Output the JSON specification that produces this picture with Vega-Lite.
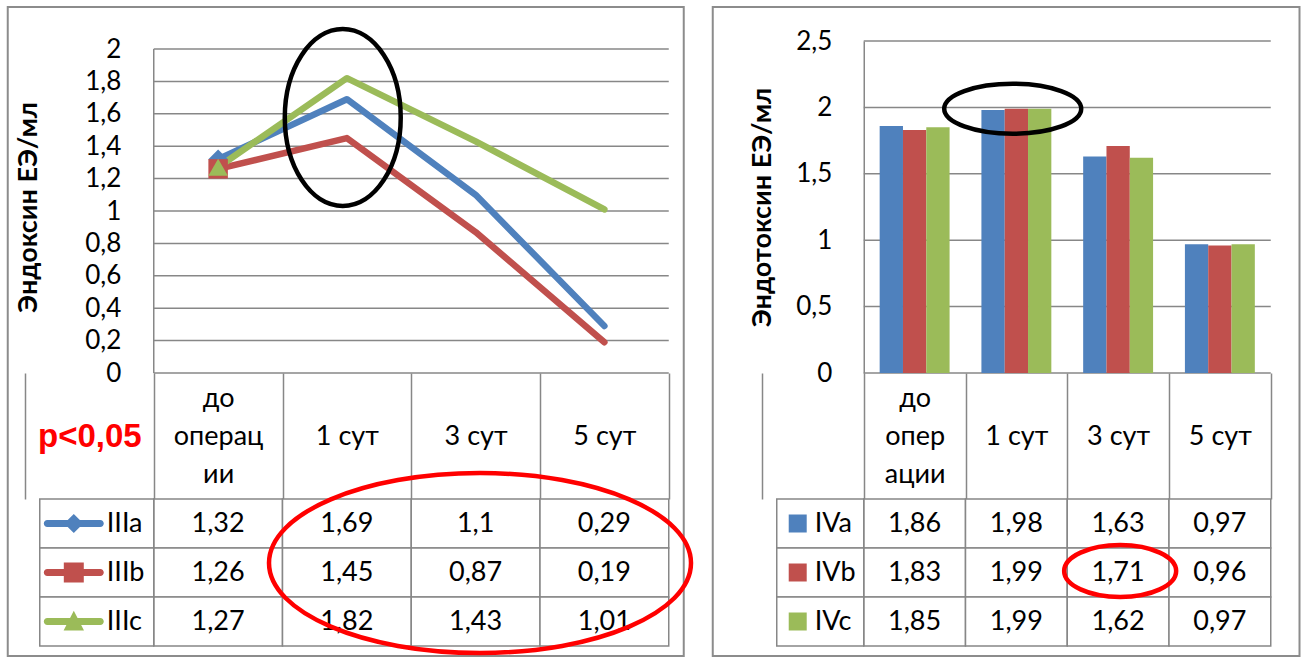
{
  "$schema": "https://vega.github.io/schema/vega-lite/v6.json",
  "background": "white",
  "padding": {"left": 6, "top": 5, "right": 0, "bottom": 0},
  "config": {
    "view": {"stroke": null},
    "font": "Lato",
    "locale": {"number": {"decimal": ",", "thousands": " ", "grouping": [3], "currency": ["", ""]}}
  },
  "datasets": {
    "left": [
      {"series": "IIIa", "cat": "до операции", "value": 1.32},
      {"series": "IIIa", "cat": "1 сут", "value": 1.69},
      {"series": "IIIa", "cat": "3 сут", "value": 1.1},
      {"series": "IIIa", "cat": "5 сут", "value": 0.29},
      {"series": "IIIb", "cat": "до операции", "value": 1.26},
      {"series": "IIIb", "cat": "1 сут", "value": 1.45},
      {"series": "IIIb", "cat": "3 сут", "value": 0.87},
      {"series": "IIIb", "cat": "5 сут", "value": 0.19},
      {"series": "IIIc", "cat": "до операции", "value": 1.27},
      {"series": "IIIc", "cat": "1 сут", "value": 1.82},
      {"series": "IIIc", "cat": "3 сут", "value": 1.43},
      {"series": "IIIc", "cat": "5 сут", "value": 1.01}
    ],
    "right": [
      {"series": "IVa", "cat": "до операции", "value": 1.86},
      {"series": "IVa", "cat": "1 сут", "value": 1.98},
      {"series": "IVa", "cat": "3 сут", "value": 1.63},
      {"series": "IVa", "cat": "5 сут", "value": 0.97},
      {"series": "IVb", "cat": "до операции", "value": 1.83},
      {"series": "IVb", "cat": "1 сут", "value": 1.99},
      {"series": "IVb", "cat": "3 сут", "value": 1.71},
      {"series": "IVb", "cat": "5 сут", "value": 0.96},
      {"series": "IVc", "cat": "до операции", "value": 1.85},
      {"series": "IVc", "cat": "1 сут", "value": 1.99},
      {"series": "IVc", "cat": "3 сут", "value": 1.62},
      {"series": "IVc", "cat": "5 сут", "value": 0.97}
    ]
  },
  "spacing": 10,
  "resolve": {"scale": {"color": "independent", "shape": "independent"}},
  "hconcat": [
    {
      "bounds": "flush",
      "spacing": 126,
      "resolve": {"scale": {"color": "independent", "shape": "independent"}},
      "vconcat": [
        {
          "width": 643.75,
          "height": 332,
          "data": {"name": "left"},
          "layer": [
            {
              "data": {"values": [{"frame": "panel"}]},
              "mark": {"type": "rect", "fill": "transparent", "stroke": "#8c8c8c", "strokeWidth": 2},
              "encoding": {
                "x": {"datum": "leg", "type": "nominal", "bandPosition": -0.134,
                  "scale": {"domain": ["leg", "до операции", "1 сут", "3 сут", "5 сут"], "paddingInner": 0, "paddingOuter": 0},
                  "axis": {"title": null, "values": ["leg", "до операции", "1 сут", "3 сут", "5 сут"], "domain": false, "grid": false, "ticks": true, "tickBand": "extent", "tickExtra": false, "tickSize": 126, "tickColor": "#878787", "tickWidth": 1.5, "labelExpr": "datum.value === 'leg' ? ['', 'p<0,05', ''] : (datum.value === 'до операции' ? ['до', 'операц', 'ии'] : ['', datum.value, ''])", "labelAlign": "center", "labelBaseline": "middle", "labelPadding": -101, "labelLineHeight": 38, "labelAngle": 0, "labelOverlap": false, "labelBound": false, "labelFlush": false, "labelLimit": 300, "labelFont": {"condition": {"test": "datum.value === 'leg'", "value": "Liberation Sans"}, "value": "Lato"}, "labelFontSize": {"condition": {"test": "datum.value === 'leg'", "value": 33}, "value": 27}, "labelFontWeight": {"condition": {"test": "datum.value === 'leg'", "value": "bold"}, "value": "normal"}, "labelColor": {"condition": {"test": "datum.value === 'leg'", "value": "#FF0000"}, "value": "#000000"}}},
                "x2": {"datum": "5 сут", "bandPosition": 1.1165},
                "y": {"datum": 2.2593, "type": "quantitative",
                  "scale": {"domain": [0, 2.0494], "nice": false},
                  "axis": {"title": "Эндоксин ЕЭ/мл", "titleFont": "Lato", "titleFontSize": 27, "titleFontWeight": "bold", "titleColor": "#000000", "titlePadding": 48, "minExtent": 63, "maxExtent": 63, "values": [0, 0.2, 0.4, 0.6, 0.8, 1, 1.2, 1.4, 1.6, 1.8, 2], "format": ".1~f", "offset": -128.75, "grid": false, "ticks": false, "domain": false, "labelFont": "Lato", "labelFontSize": 26, "labelColor": "#000000", "labelPadding": 33, "labelOverlap": false, "labelFlush": false}},
                "y2": {"datum": -1.7469}
              }
            },
            {
              "data": {"values": [{"g": 0}, {"g": 0.2}, {"g": 0.4}, {"g": 0.6}, {"g": 0.8}, {"g": 1}, {"g": 1.2}, {"g": 1.4}, {"g": 1.6}, {"g": 1.8}, {"g": 2}]},
              "mark": {"type": "rule", "stroke": "#878787", "strokeWidth": 1.5},
              "encoding": {
                "x": {"datum": "до операции", "type": "nominal", "bandPosition": 0,
                  "scale": {"domain": ["leg", "до операции", "1 сут", "3 сут", "5 сут"], "paddingInner": 0, "paddingOuter": 0},
                  "axis": {"title": null, "values": ["leg", "до операции", "1 сут", "3 сут", "5 сут"], "domain": false, "grid": false, "ticks": true, "tickBand": "extent", "tickExtra": false, "tickSize": 126, "tickColor": "#878787", "tickWidth": 1.5, "labelExpr": "datum.value === 'leg' ? ['', 'p<0,05', ''] : (datum.value === 'до операции' ? ['до', 'операц', 'ии'] : ['', datum.value, ''])", "labelAlign": "center", "labelBaseline": "middle", "labelPadding": -101, "labelLineHeight": 38, "labelAngle": 0, "labelOverlap": false, "labelBound": false, "labelFlush": false, "labelLimit": 300, "labelFont": {"condition": {"test": "datum.value === 'leg'", "value": "Liberation Sans"}, "value": "Lato"}, "labelFontSize": {"condition": {"test": "datum.value === 'leg'", "value": 33}, "value": 27}, "labelFontWeight": {"condition": {"test": "datum.value === 'leg'", "value": "bold"}, "value": "normal"}, "labelColor": {"condition": {"test": "datum.value === 'leg'", "value": "#FF0000"}, "value": "#000000"}}},
                "x2": {"datum": "5 сут", "bandPosition": 1},
                "y": {"field": "g", "type": "quantitative",
                  "scale": {"domain": [0, 2.0494], "nice": false},
                  "axis": {"title": "Эндоксин ЕЭ/мл", "titleFont": "Lato", "titleFontSize": 27, "titleFontWeight": "bold", "titleColor": "#000000", "titlePadding": 48, "minExtent": 63, "maxExtent": 63, "values": [0, 0.2, 0.4, 0.6, 0.8, 1, 1.2, 1.4, 1.6, 1.8, 2], "format": ".1~f", "offset": -128.75, "grid": false, "ticks": false, "domain": false, "labelFont": "Lato", "labelFontSize": 26, "labelColor": "#000000", "labelPadding": 33, "labelOverlap": false, "labelFlush": false}}
              }
            },
            {
              "data": {"values": [{"g": 0}]},
              "mark": {"type": "rule", "stroke": "#878787", "strokeWidth": 1.5},
              "encoding": {
                "x": {"datum": "до операции", "type": "nominal", "bandPosition": 0,
                  "scale": {"domain": ["leg", "до операции", "1 сут", "3 сут", "5 сут"], "paddingInner": 0, "paddingOuter": 0},
                  "axis": {"title": null, "values": ["leg", "до операции", "1 сут", "3 сут", "5 сут"], "domain": false, "grid": false, "ticks": true, "tickBand": "extent", "tickExtra": false, "tickSize": 126, "tickColor": "#878787", "tickWidth": 1.5, "labelExpr": "datum.value === 'leg' ? ['', 'p<0,05', ''] : (datum.value === 'до операции' ? ['до', 'операц', 'ии'] : ['', datum.value, ''])", "labelAlign": "center", "labelBaseline": "middle", "labelPadding": -101, "labelLineHeight": 38, "labelAngle": 0, "labelOverlap": false, "labelBound": false, "labelFlush": false, "labelLimit": 300, "labelFont": {"condition": {"test": "datum.value === 'leg'", "value": "Liberation Sans"}, "value": "Lato"}, "labelFontSize": {"condition": {"test": "datum.value === 'leg'", "value": 33}, "value": 27}, "labelFontWeight": {"condition": {"test": "datum.value === 'leg'", "value": "bold"}, "value": "normal"}, "labelColor": {"condition": {"test": "datum.value === 'leg'", "value": "#FF0000"}, "value": "#000000"}}},
                "y": {"datum": 0, "type": "quantitative",
                  "scale": {"domain": [0, 2.0494], "nice": false},
                  "axis": {"title": "Эндоксин ЕЭ/мл", "titleFont": "Lato", "titleFontSize": 27, "titleFontWeight": "bold", "titleColor": "#000000", "titlePadding": 48, "minExtent": 63, "maxExtent": 63, "values": [0, 0.2, 0.4, 0.6, 0.8, 1, 1.2, 1.4, 1.6, 1.8, 2], "format": ".1~f", "offset": -128.75, "grid": false, "ticks": false, "domain": false, "labelFont": "Lato", "labelFontSize": 26, "labelColor": "#000000", "labelPadding": 33, "labelOverlap": false, "labelFlush": false}},
                "y2": {"datum": 2}
              }
            },
            {
              "mark": {"type": "line", "strokeWidth": 6.5, "strokeCap": "round", "strokeJoin": "round"},
              "encoding": {
                "x": {"field": "cat", "type": "nominal",
                  "scale": {"domain": ["leg", "до операции", "1 сут", "3 сут", "5 сут"], "paddingInner": 0, "paddingOuter": 0},
                  "axis": {"title": null, "values": ["leg", "до операции", "1 сут", "3 сут", "5 сут"], "domain": false, "grid": false, "ticks": true, "tickBand": "extent", "tickExtra": false, "tickSize": 126, "tickColor": "#878787", "tickWidth": 1.5, "labelExpr": "datum.value === 'leg' ? ['', 'p<0,05', ''] : (datum.value === 'до операции' ? ['до', 'операц', 'ии'] : ['', datum.value, ''])", "labelAlign": "center", "labelBaseline": "middle", "labelPadding": -101, "labelLineHeight": 38, "labelAngle": 0, "labelOverlap": false, "labelBound": false, "labelFlush": false, "labelLimit": 300, "labelFont": {"condition": {"test": "datum.value === 'leg'", "value": "Liberation Sans"}, "value": "Lato"}, "labelFontSize": {"condition": {"test": "datum.value === 'leg'", "value": 33}, "value": 27}, "labelFontWeight": {"condition": {"test": "datum.value === 'leg'", "value": "bold"}, "value": "normal"}, "labelColor": {"condition": {"test": "datum.value === 'leg'", "value": "#FF0000"}, "value": "#000000"}}},
                "y": {"field": "value", "type": "quantitative",
                  "scale": {"domain": [0, 2.0494], "nice": false},
                  "axis": {"title": "Эндоксин ЕЭ/мл", "titleFont": "Lato", "titleFontSize": 27, "titleFontWeight": "bold", "titleColor": "#000000", "titlePadding": 48, "minExtent": 63, "maxExtent": 63, "values": [0, 0.2, 0.4, 0.6, 0.8, 1, 1.2, 1.4, 1.6, 1.8, 2], "format": ".1~f", "offset": -128.75, "grid": false, "ticks": false, "domain": false, "labelFont": "Lato", "labelFontSize": 26, "labelColor": "#000000", "labelPadding": 33, "labelOverlap": false, "labelFlush": false}},
                "color": {"field": "series", "type": "nominal", "scale": {"domain": ["IIIa", "IIIb", "IIIc"], "range": ["#4F81BD", "#C0504D", "#9BBB59"]}, "legend": null}
              }
            },
            {
              "transform": [{"filter": "datum.cat === 'до операции'"}],
              "mark": {"type": "point", "filled": true, "opacity": 1, "size": 380},
              "encoding": {
                "x": {"field": "cat", "type": "nominal",
                  "scale": {"domain": ["leg", "до операции", "1 сут", "3 сут", "5 сут"], "paddingInner": 0, "paddingOuter": 0},
                  "axis": {"title": null, "values": ["leg", "до операции", "1 сут", "3 сут", "5 сут"], "domain": false, "grid": false, "ticks": true, "tickBand": "extent", "tickExtra": false, "tickSize": 126, "tickColor": "#878787", "tickWidth": 1.5, "labelExpr": "datum.value === 'leg' ? ['', 'p<0,05', ''] : (datum.value === 'до операции' ? ['до', 'операц', 'ии'] : ['', datum.value, ''])", "labelAlign": "center", "labelBaseline": "middle", "labelPadding": -101, "labelLineHeight": 38, "labelAngle": 0, "labelOverlap": false, "labelBound": false, "labelFlush": false, "labelLimit": 300, "labelFont": {"condition": {"test": "datum.value === 'leg'", "value": "Liberation Sans"}, "value": "Lato"}, "labelFontSize": {"condition": {"test": "datum.value === 'leg'", "value": 33}, "value": 27}, "labelFontWeight": {"condition": {"test": "datum.value === 'leg'", "value": "bold"}, "value": "normal"}, "labelColor": {"condition": {"test": "datum.value === 'leg'", "value": "#FF0000"}, "value": "#000000"}}},
                "y": {"field": "value", "type": "quantitative",
                  "scale": {"domain": [0, 2.0494], "nice": false},
                  "axis": {"title": "Эндоксин ЕЭ/мл", "titleFont": "Lato", "titleFontSize": 27, "titleFontWeight": "bold", "titleColor": "#000000", "titlePadding": 48, "minExtent": 63, "maxExtent": 63, "values": [0, 0.2, 0.4, 0.6, 0.8, 1, 1.2, 1.4, 1.6, 1.8, 2], "format": ".1~f", "offset": -128.75, "grid": false, "ticks": false, "domain": false, "labelFont": "Lato", "labelFontSize": 26, "labelColor": "#000000", "labelPadding": 33, "labelOverlap": false, "labelFlush": false}},
                "color": {"field": "series", "type": "nominal", "scale": {"domain": ["IIIa", "IIIb", "IIIc"], "range": ["#4F81BD", "#C0504D", "#9BBB59"]}, "legend": null},
                "shape": {"field": "series", "type": "nominal", "scale": {"domain": ["IIIa", "IIIb", "IIIc"], "range": ["diamond", "square", "triangle-up"]}, "legend": null}
              }
            },
            {
              "transform": [{"filter": "datum.series === 'IIIa' && datum.cat === '1 сут'"}],
              "mark": {"type": "point", "filled": false, "opacity": 1, "stroke": "#000000", "strokeWidth": 4.5, "size": 31329,
                "shape": "M 0.655 0 C 0.655 0.5523 0.3618 1 0 1 C -0.3618 1 -0.655 0.5523 -0.655 0 C -0.655 -0.5523 -0.3618 -1 0 -1 C 0.3618 -1 0.655 -0.5523 0.655 0 Z"},
              "encoding": {
                "x": {"field": "cat", "type": "nominal", "bandPosition": 0.468,
                  "scale": {"domain": ["leg", "до операции", "1 сут", "3 сут", "5 сут"], "paddingInner": 0, "paddingOuter": 0},
                  "axis": {"title": null, "values": ["leg", "до операции", "1 сут", "3 сут", "5 сут"], "domain": false, "grid": false, "ticks": true, "tickBand": "extent", "tickExtra": false, "tickSize": 126, "tickColor": "#878787", "tickWidth": 1.5, "labelExpr": "datum.value === 'leg' ? ['', 'p<0,05', ''] : (datum.value === 'до операции' ? ['до', 'операц', 'ии'] : ['', datum.value, ''])", "labelAlign": "center", "labelBaseline": "middle", "labelPadding": -101, "labelLineHeight": 38, "labelAngle": 0, "labelOverlap": false, "labelBound": false, "labelFlush": false, "labelLimit": 300, "labelFont": {"condition": {"test": "datum.value === 'leg'", "value": "Liberation Sans"}, "value": "Lato"}, "labelFontSize": {"condition": {"test": "datum.value === 'leg'", "value": 33}, "value": 27}, "labelFontWeight": {"condition": {"test": "datum.value === 'leg'", "value": "bold"}, "value": "normal"}, "labelColor": {"condition": {"test": "datum.value === 'leg'", "value": "#FF0000"}, "value": "#000000"}}},
                "y": {"datum": 1.577, "type": "quantitative",
                  "scale": {"domain": [0, 2.0494], "nice": false},
                  "axis": {"title": "Эндоксин ЕЭ/мл", "titleFont": "Lato", "titleFontSize": 27, "titleFontWeight": "bold", "titleColor": "#000000", "titlePadding": 48, "minExtent": 63, "maxExtent": 63, "values": [0, 0.2, 0.4, 0.6, 0.8, 1, 1.2, 1.4, 1.6, 1.8, 2], "format": ".1~f", "offset": -128.75, "grid": false, "ticks": false, "domain": false, "labelFont": "Lato", "labelFontSize": 26, "labelColor": "#000000", "labelPadding": 33, "labelOverlap": false, "labelFlush": false}}
              }
            }
          ]
        },
        {
          "width": 643.75,
          "height": 147,
          "data": {"name": "left"},
          "layer": [
            {
              "mark": {"type": "rect", "fill": "white", "stroke": "#878787", "strokeWidth": 1.5},
              "encoding": {
                "x": {"field": "cat", "type": "nominal", "scale": {"domain": ["leg", "до операции", "1 сут", "3 сут", "5 сут"], "paddingInner": 0, "paddingOuter": 0}, "axis": null},
                "y": {"field": "series", "type": "nominal", "scale": {"domain": ["IIIa", "IIIb", "IIIc"], "paddingInner": 0, "paddingOuter": 0}, "axis": null}
              }
            },
            {
              "transform": [{"filter": "datum.cat === 'до операции'"}],
              "mark": {"type": "rect", "fill": "white", "stroke": "#878787", "strokeWidth": 1.5},
              "encoding": {
                "x": {"datum": "leg", "type": "nominal", "bandPosition": 0.1146, "scale": {"domain": ["leg", "до операции", "1 сут", "3 сут", "5 сут"], "paddingInner": 0, "paddingOuter": 0}, "axis": null},
                "x2": {"datum": "leg", "bandPosition": 1},
                "y": {"field": "series", "type": "nominal", "scale": {"domain": ["IIIa", "IIIb", "IIIc"], "paddingInner": 0, "paddingOuter": 0}, "axis": null}
              }
            },
            {
              "mark": {"type": "text", "font": "Lato", "fontSize": 27, "color": "#000000", "baseline": "middle", "align": "center"},
              "encoding": {
                "x": {"field": "cat", "type": "nominal", "scale": {"domain": ["leg", "до операции", "1 сут", "3 сут", "5 сут"], "paddingInner": 0, "paddingOuter": 0}, "axis": null},
                "y": {"field": "series", "type": "nominal", "scale": {"domain": ["IIIa", "IIIb", "IIIc"], "paddingInner": 0, "paddingOuter": 0}, "axis": null},
                "text": {"field": "value", "type": "quantitative", "format": ".2~f"}
              }
            },
            {
              "transform": [{"filter": "datum.cat === 'до операции'"}],
              "mark": {"type": "point", "filled": true, "opacity": 1, "size": 3600, "strokeWidth": 0},
              "encoding": {
                "x": {"datum": "leg", "type": "nominal", "bandPosition": 0.379, "scale": {"domain": ["leg", "до операции", "1 сут", "3 сут", "5 сут"], "paddingInner": 0, "paddingOuter": 0}, "axis": null},
                "y": {"field": "series", "type": "nominal", "scale": {"domain": ["IIIa", "IIIb", "IIIc"], "paddingInner": 0, "paddingOuter": 0}, "axis": null},
                "color": {"field": "series", "type": "nominal", "scale": {"domain": ["IIIa", "IIIb", "IIIc"], "range": ["#4F81BD", "#C0504D", "#9BBB59"]}, "legend": null},
                "shape": {"field": "series", "type": "nominal", "legend": null, "scale": {"domain": ["IIIa", "IIIb", "IIIc"], "range": [
                  "M -0.883 -0.117 L 0.883 -0.117 C 0.948 -0.117 1 -0.065 1 0 C 1 0.065 0.948 0.117 0.883 0.117 L -0.883 0.117 C -0.948 0.117 -1 0.065 -1 0 C -1 -0.065 -0.948 -0.117 -0.883 -0.117 Z M 0 -0.32 L 0.32 0 L 0 0.32 L -0.32 0 Z",
                  "M -0.883 -0.117 L 0.883 -0.117 C 0.948 -0.117 1 -0.065 1 0 C 1 0.065 0.948 0.117 0.883 0.117 L -0.883 0.117 C -0.948 0.117 -1 0.065 -1 0 C -1 -0.065 -0.948 -0.117 -0.883 -0.117 Z M -0.333 -0.333 L 0.333 -0.333 L 0.333 0.333 L -0.333 0.333 Z",
                  "M -0.883 -0.117 L 0.883 -0.117 C 0.948 -0.117 1 -0.065 1 0 C 1 0.065 0.948 0.117 0.883 0.117 L -0.883 0.117 C -0.948 0.117 -1 0.065 -1 0 C -1 -0.065 -0.948 -0.117 -0.883 -0.117 Z M 0 -0.36 L 0.34 0.3 L -0.34 0.3 Z"
                ]}}
              }
            },
            {
              "transform": [{"filter": "datum.cat === 'до операции'"}],
              "mark": {"type": "text", "font": "Lato", "fontSize": 27, "color": "#000000", "baseline": "middle", "align": "left"},
              "encoding": {
                "x": {"datum": "leg", "type": "nominal", "bandPosition": 0.635, "scale": {"domain": ["leg", "до операции", "1 сут", "3 сут", "5 сут"], "paddingInner": 0, "paddingOuter": 0}, "axis": null},
                "y": {"field": "series", "type": "nominal", "scale": {"domain": ["IIIa", "IIIb", "IIIc"], "paddingInner": 0, "paddingOuter": 0}, "axis": null},
                "text": {"field": "series", "type": "nominal"}
              }
            },
            {
              "transform": [{"filter": "datum.series === 'IIIb' && datum.cat === '3 сут'"}],
              "mark": {"type": "point", "filled": false, "opacity": 1, "stroke": "#FF0000", "strokeWidth": 4.5, "size": 178084,
                "shape": "M 1 0 C 1 0.2356 0.5523 0.4265 0 0.4265 C -0.5523 0.4265 -1 0.2356 -1 0 C -1 -0.2356 -0.5523 -0.4265 0 -0.4265 C 0.5523 -0.4265 1 -0.2356 1 0 Z"},
              "encoding": {
                "x": {"field": "cat", "type": "nominal", "bandPosition": 0.534, "scale": {"domain": ["leg", "до операции", "1 сут", "3 сут", "5 сут"], "paddingInner": 0, "paddingOuter": 0}, "axis": null},
                "y": {"field": "series", "type": "nominal", "bandPosition": 0.306, "scale": {"domain": ["IIIa", "IIIb", "IIIc"], "paddingInner": 0, "paddingOuter": 0}, "axis": null}
              }
            }
          ]
        }
      ]
    },
    {
      "bounds": "flush",
      "spacing": 126,
      "resolve": {"scale": {"color": "independent", "shape": "independent"}},
      "vconcat": [
        {
          "width": 508.75,
          "height": 332,
          "data": {"name": "right"},
          "layer": [
            {
              "data": {"values": [{"frame": "panel"}]},
              "mark": {"type": "rect", "fill": "transparent", "stroke": "#8c8c8c", "strokeWidth": 2},
              "encoding": {
                "x": {"datum": "leg", "type": "nominal", "bandPosition": -0.484,
                  "scale": {"domain": ["leg", "до операции", "1 сут", "3 сут", "5 сут"], "paddingInner": 0, "paddingOuter": 0},
                  "axis": {"title": null, "values": ["leg", "до операции", "1 сут", "3 сут", "5 сут"], "domain": false, "grid": false, "ticks": true, "tickBand": "extent", "tickExtra": false, "tickSize": 126, "tickColor": "#878787", "tickWidth": 1.5, "labelExpr": "datum.value === 'leg' ? '' : (datum.value === 'до операции' ? ['до', 'опер', 'ации'] : ['', datum.value, ''])", "labelAlign": "center", "labelBaseline": "middle", "labelPadding": -101, "labelLineHeight": 38, "labelAngle": 0, "labelOverlap": false, "labelBound": false, "labelFlush": false, "labelLimit": 300, "labelFont": "Lato", "labelFontSize": 27, "labelColor": "#000000"}},
                "x2": {"datum": "5 сут", "bandPosition": 1.2826},
                "y": {"datum": 2.756, "type": "quantitative",
                  "scale": {"domain": [0, 2.5], "nice": false},
                  "axis": {"title": "Эндотоксин ЕЭ/мл", "titleFont": "Lato", "titleFontSize": 27, "titleFontWeight": "bold", "titleColor": "#000000", "titlePadding": 22, "minExtent": 65, "maxExtent": 65, "values": [0, 0.5, 1, 1.5, 2, 2.5], "format": ".1~f", "offset": -101.75, "grid": false, "ticks": false, "domain": true, "domainColor": "#878787", "domainWidth": 1.5, "labelFont": "Lato", "labelFontSize": 26, "labelColor": "#000000", "labelPadding": 32, "labelOverlap": false, "labelFlush": false}},
                "y2": {"datum": -2.131}
              }
            },
            {
              "data": {"values": [{"g": 0}, {"g": 0.5}, {"g": 1}, {"g": 1.5}, {"g": 2}, {"g": 2.5}]},
              "mark": {"type": "rule", "stroke": "#878787", "strokeWidth": 1.5},
              "encoding": {
                "x": {"datum": "до операции", "type": "nominal", "bandPosition": 0,
                  "scale": {"domain": ["leg", "до операции", "1 сут", "3 сут", "5 сут"], "paddingInner": 0, "paddingOuter": 0},
                  "axis": {"title": null, "values": ["leg", "до операции", "1 сут", "3 сут", "5 сут"], "domain": false, "grid": false, "ticks": true, "tickBand": "extent", "tickExtra": false, "tickSize": 126, "tickColor": "#878787", "tickWidth": 1.5, "labelExpr": "datum.value === 'leg' ? '' : (datum.value === 'до операции' ? ['до', 'опер', 'ации'] : ['', datum.value, ''])", "labelAlign": "center", "labelBaseline": "middle", "labelPadding": -101, "labelLineHeight": 38, "labelAngle": 0, "labelOverlap": false, "labelBound": false, "labelFlush": false, "labelLimit": 300, "labelFont": "Lato", "labelFontSize": 27, "labelColor": "#000000"}},
                "x2": {"datum": "5 сут", "bandPosition": 1},
                "y": {"field": "g", "type": "quantitative",
                  "scale": {"domain": [0, 2.5], "nice": false},
                  "axis": {"title": "Эндотоксин ЕЭ/мл", "titleFont": "Lato", "titleFontSize": 27, "titleFontWeight": "bold", "titleColor": "#000000", "titlePadding": 22, "minExtent": 65, "maxExtent": 65, "values": [0, 0.5, 1, 1.5, 2, 2.5], "format": ".1~f", "offset": -101.75, "grid": false, "ticks": false, "domain": true, "domainColor": "#878787", "domainWidth": 1.5, "labelFont": "Lato", "labelFontSize": 26, "labelColor": "#000000", "labelPadding": 32, "labelOverlap": false, "labelFlush": false}}
              }
            },
            {
              "mark": {"type": "bar"},
              "encoding": {
                "x": {"field": "cat", "type": "nominal",
                  "scale": {"domain": ["leg", "до операции", "1 сут", "3 сут", "5 сут"], "paddingInner": 0, "paddingOuter": 0},
                  "axis": {"title": null, "values": ["leg", "до операции", "1 сут", "3 сут", "5 сут"], "domain": false, "grid": false, "ticks": true, "tickBand": "extent", "tickExtra": false, "tickSize": 126, "tickColor": "#878787", "tickWidth": 1.5, "labelExpr": "datum.value === 'leg' ? '' : (datum.value === 'до операции' ? ['до', 'опер', 'ации'] : ['', datum.value, ''])", "labelAlign": "center", "labelBaseline": "middle", "labelPadding": -101, "labelLineHeight": 38, "labelAngle": 0, "labelOverlap": false, "labelBound": false, "labelFlush": false, "labelLimit": 300, "labelFont": "Lato", "labelFontSize": 27, "labelColor": "#000000"}},
                "xOffset": {"field": "series", "type": "nominal", "scale": {"domain": ["IVa", "IVb", "IVc"], "paddingInner": 0, "paddingOuter": 0.683}},
                "y": {"field": "value", "type": "quantitative",
                  "scale": {"domain": [0, 2.5], "nice": false},
                  "axis": {"title": "Эндотоксин ЕЭ/мл", "titleFont": "Lato", "titleFontSize": 27, "titleFontWeight": "bold", "titleColor": "#000000", "titlePadding": 22, "minExtent": 65, "maxExtent": 65, "values": [0, 0.5, 1, 1.5, 2, 2.5], "format": ".1~f", "offset": -101.75, "grid": false, "ticks": false, "domain": true, "domainColor": "#878787", "domainWidth": 1.5, "labelFont": "Lato", "labelFontSize": 26, "labelColor": "#000000", "labelPadding": 32, "labelOverlap": false, "labelFlush": false}},
                "color": {"field": "series", "type": "nominal", "scale": {"domain": ["IVa", "IVb", "IVc"], "range": ["#4F81BD", "#C0504D", "#9BBB59"]}, "legend": null}
              }
            },
            {
              "transform": [{"filter": "datum.series === 'IVa' && datum.cat === '1 сут'"}],
              "mark": {"type": "point", "filled": false, "opacity": 1, "stroke": "#000000", "strokeWidth": 4.5, "size": 18769,
                "shape": "M 1 0 C 1 0.2016 0.5523 0.365 0 0.365 C -0.5523 0.365 -1 0.2016 -1 0 C -1 -0.2016 -0.5523 -0.365 0 -0.365 C 0.5523 -0.365 1 -0.2016 1 0 Z"},
              "encoding": {
                "x": {"field": "cat", "type": "nominal", "bandPosition": 0.464,
                  "scale": {"domain": ["leg", "до операции", "1 сут", "3 сут", "5 сут"], "paddingInner": 0, "paddingOuter": 0},
                  "axis": {"title": null, "values": ["leg", "до операции", "1 сут", "3 сут", "5 сут"], "domain": false, "grid": false, "ticks": true, "tickBand": "extent", "tickExtra": false, "tickSize": 126, "tickColor": "#878787", "tickWidth": 1.5, "labelExpr": "datum.value === 'leg' ? '' : (datum.value === 'до операции' ? ['до', 'опер', 'ации'] : ['', datum.value, ''])", "labelAlign": "center", "labelBaseline": "middle", "labelPadding": -101, "labelLineHeight": 38, "labelAngle": 0, "labelOverlap": false, "labelBound": false, "labelFlush": false, "labelLimit": 300, "labelFont": "Lato", "labelFontSize": 27, "labelColor": "#000000"}},
                "y": {"datum": 1.99, "type": "quantitative",
                  "scale": {"domain": [0, 2.5], "nice": false},
                  "axis": {"title": "Эндотоксин ЕЭ/мл", "titleFont": "Lato", "titleFontSize": 27, "titleFontWeight": "bold", "titleColor": "#000000", "titlePadding": 22, "minExtent": 65, "maxExtent": 65, "values": [0, 0.5, 1, 1.5, 2, 2.5], "format": ".1~f", "offset": -101.75, "grid": false, "ticks": false, "domain": true, "domainColor": "#878787", "domainWidth": 1.5, "labelFont": "Lato", "labelFontSize": 26, "labelColor": "#000000", "labelPadding": 32, "labelOverlap": false, "labelFlush": false}}
              }
            }
          ]
        },
        {
          "width": 508.75,
          "height": 147,
          "data": {"name": "right"},
          "layer": [
            {
              "mark": {"type": "rect", "fill": "white", "stroke": "#878787", "strokeWidth": 1.5},
              "encoding": {
                "x": {"field": "cat", "type": "nominal", "scale": {"domain": ["leg", "до операции", "1 сут", "3 сут", "5 сут"], "paddingInner": 0, "paddingOuter": 0}, "axis": null},
                "y": {"field": "series", "type": "nominal", "scale": {"domain": ["IVa", "IVb", "IVc"], "paddingInner": 0, "paddingOuter": 0}, "axis": null}
              }
            },
            {
              "transform": [{"filter": "datum.cat === 'до операции'"}],
              "mark": {"type": "rect", "fill": "white", "stroke": "#878787", "strokeWidth": 1.5},
              "encoding": {
                "x": {"datum": "leg", "type": "nominal", "bandPosition": 0.145, "scale": {"domain": ["leg", "до операции", "1 сут", "3 сут", "5 сут"], "paddingInner": 0, "paddingOuter": 0}, "axis": null},
                "x2": {"datum": "leg", "bandPosition": 1},
                "y": {"field": "series", "type": "nominal", "scale": {"domain": ["IVa", "IVb", "IVc"], "paddingInner": 0, "paddingOuter": 0}, "axis": null}
              }
            },
            {
              "mark": {"type": "text", "font": "Lato", "fontSize": 27, "color": "#000000", "baseline": "middle", "align": "center"},
              "encoding": {
                "x": {"field": "cat", "type": "nominal", "scale": {"domain": ["leg", "до операции", "1 сут", "3 сут", "5 сут"], "paddingInner": 0, "paddingOuter": 0}, "axis": null},
                "y": {"field": "series", "type": "nominal", "scale": {"domain": ["IVa", "IVb", "IVc"], "paddingInner": 0, "paddingOuter": 0}, "axis": null},
                "text": {"field": "value", "type": "quantitative", "format": ".2~f"}
              }
            },
            {
              "transform": [{"filter": "datum.cat === 'до операции'"}],
              "mark": {"type": "point", "filled": true, "opacity": 1, "size": 324, "shape": "square", "strokeWidth": 0},
              "encoding": {
                "x": {"datum": "leg", "type": "nominal", "bandPosition": 0.351, "scale": {"domain": ["leg", "до операции", "1 сут", "3 сут", "5 сут"], "paddingInner": 0, "paddingOuter": 0}, "axis": null},
                "y": {"field": "series", "type": "nominal", "scale": {"domain": ["IVa", "IVb", "IVc"], "paddingInner": 0, "paddingOuter": 0}, "axis": null},
                "color": {"field": "series", "type": "nominal", "scale": {"domain": ["IVa", "IVb", "IVc"], "range": ["#4F81BD", "#C0504D", "#9BBB59"]}, "legend": null}
              }
            },
            {
              "transform": [{"filter": "datum.cat === 'до операции'"}],
              "mark": {"type": "text", "font": "Lato", "fontSize": 27, "color": "#000000", "baseline": "middle", "align": "left"},
              "encoding": {
                "x": {"datum": "leg", "type": "nominal", "bandPosition": 0.518, "scale": {"domain": ["leg", "до операции", "1 сут", "3 сут", "5 сут"], "paddingInner": 0, "paddingOuter": 0}, "axis": null},
                "y": {"field": "series", "type": "nominal", "scale": {"domain": ["IVa", "IVb", "IVc"], "paddingInner": 0, "paddingOuter": 0}, "axis": null},
                "text": {"field": "series", "type": "nominal"}
              }
            },
            {
              "transform": [{"filter": "datum.series === 'IVb' && datum.cat === '3 сут'"}],
              "mark": {"type": "point", "filled": false, "opacity": 1, "stroke": "#FF0000", "strokeWidth": 4.5, "size": 12544,
                "shape": "M 1 0 C 1 0.2564 0.5523 0.4643 0 0.4643 C -0.5523 0.4643 -1 0.2564 -1 0 C -1 -0.2564 -0.5523 -0.4643 0 -0.4643 C 0.5523 -0.4643 1 -0.2564 1 0 Z"},
              "encoding": {
                "x": {"field": "cat", "type": "nominal", "bandPosition": 0.52, "scale": {"domain": ["leg", "до операции", "1 сут", "3 сут", "5 сут"], "paddingInner": 0, "paddingOuter": 0}, "axis": null},
                "y": {"field": "series", "type": "nominal", "bandPosition": 0.47, "scale": {"domain": ["IVa", "IVb", "IVc"], "paddingInner": 0, "paddingOuter": 0}, "axis": null}
              }
            }
          ]
        }
      ]
    }
  ]
}
